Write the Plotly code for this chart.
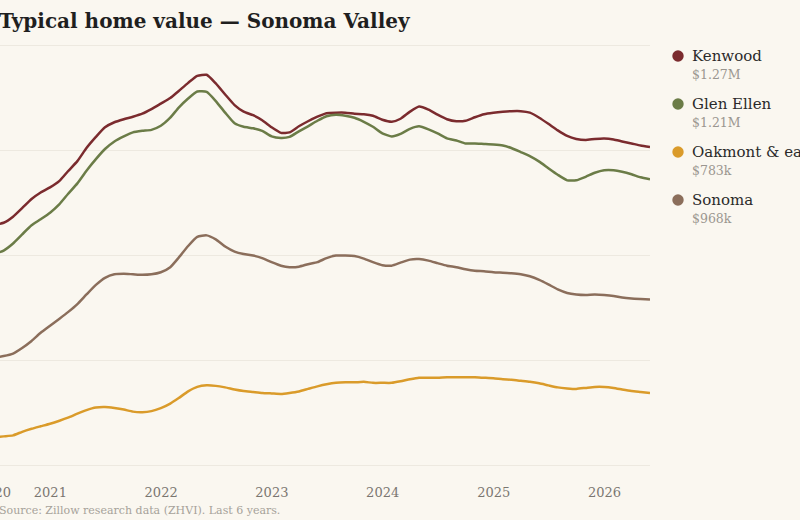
import plotly.graph_objects as go
import pandas as pd

# Monthly ZHVI, month-end dates, values in $k
months = pd.date_range("2020-06-30", periods=72, freq="ME")

kenwood = [1116, 1120, 1132, 1149, 1167, 1180, 1190, 1203, 1222, 1242,
           1268, 1290, 1309, 1319, 1325, 1330, 1336, 1345, 1356, 1367,
           1381, 1397, 1411, 1413, 1396, 1374, 1353, 1340, 1333, 1323,
           1309, 1298, 1299, 1311, 1321, 1330, 1337, 1338, 1338, 1336,
           1335, 1332, 1324, 1320, 1326, 1340, 1350, 1344, 1334, 1325,
           1321, 1322, 1329, 1335, 1338, 1340, 1341, 1341, 1338, 1328,
           1316, 1303, 1292, 1286, 1284, 1286, 1287, 1285, 1281, 1277,
           1273, 1270]
glen_ellen = [1058, 1065, 1079, 1097, 1115, 1127, 1140, 1157, 1177, 1198,
              1223, 1246, 1266, 1281, 1291, 1299, 1302, 1304, 1312, 1328,
              1348, 1366, 1380, 1379, 1361, 1338, 1317, 1310, 1307, 1302,
              1291, 1288, 1290, 1301, 1311, 1322, 1331, 1334, 1332, 1328,
              1320, 1310, 1297, 1291, 1296, 1306, 1311, 1305, 1297, 1287,
              1283, 1277, 1277, 1276, 1275, 1273, 1268, 1260, 1252, 1241,
              1228, 1215, 1204, 1204, 1211, 1219, 1224, 1224, 1221, 1216,
              1210, 1206]
oakmont = [695, 697, 699, 706, 712, 717, 722, 728, 734, 742,
           749, 754, 755, 753, 750, 746, 745, 747, 753, 762,
           773, 786, 795, 798, 797, 794, 790, 787, 785, 783,
           782, 781, 783, 786, 791, 796, 800, 803, 804, 804,
           805, 803, 803, 803, 806, 810, 813, 813, 813, 814,
           814, 814, 814, 813, 812, 810, 809, 807, 805, 802,
           798, 794, 792, 791, 793, 795, 795, 793, 790, 787,
           785, 783]
sonoma = [853, 856, 861, 872, 886, 902, 916, 930, 943, 959,
          978, 997, 1011, 1018, 1019, 1018, 1017, 1018, 1022, 1032,
          1051, 1074, 1092, 1095, 1087, 1073, 1063, 1058, 1055, 1050,
          1042, 1035, 1032, 1033, 1038, 1042, 1050, 1055, 1055, 1054,
          1049, 1042, 1036, 1035, 1041, 1047, 1048, 1045, 1040, 1035,
          1032, 1028, 1025, 1024, 1022, 1021, 1020, 1018, 1014, 1007,
          998, 988, 981, 978, 977, 978, 977, 975, 972, 970,
          969, 968]

names = ["Kenwood", "Glen Ellen", "Oakmont & east Sonoma", "Sonoma"]
values = [kenwood, glen_ellen, oakmont, sonoma]
colors = ["#7b2b2e", "#6b7c47", "#da9b2a", "#8b6e5b"]

year_ticks = ["2021-01-01", "2022-01-01", "2023-01-01", "2024-01-01", "2025-01-01", "2026-01-01"]
year_labels = ["2021", "2022", "2023", "2024", "2025", "2026"]

BG = "#faf7f0"
FONT = "DejaVu Serif"


def fmt_money(k):
    # k is in thousands of dollars
    if k >= 1000:
        return f"${k / 1000:.2f}M"
    return f"${k:.0f}k"


fig = go.Figure()
for name, vals, color in zip(names, values, colors):
    fig.add_trace(go.Scatter(
        x=months, y=[v * 1000 for v in vals], mode="lines", name=name,
        line=dict(color=color, width=2.5, shape="spline", smoothing=0.5), showlegend=False,
        hovertemplate="%{x|%b %Y}<br>$%{y:,.0f}<extra>" + name + "</extra>",
    ))

# plot area geometry (px): left 0, right 650, top 40, bottom 470
W, H = 800, 520
ML, MR, MT, MB = 0, 150, 40, 50
PW = W - ML - MR
PH = H - MT - MB

x_start = pd.Timestamp("2020-07-19")
x_end = months[-1]

annotations = []
shapes = []

# title + source (slightly clipped on the left like the original)
annotations.append(dict(
    text="<b>Typical home value — Sonoma Valley</b>", xref="paper", yref="paper",
    x=0, y=1, xanchor="left", yanchor="middle", xshift=-3, yshift=19, showarrow=False,
    font=dict(family=FONT, size=20, color="#1f1f1f"),
))
annotations.append(dict(
    text="Source: Zillow research data (ZHVI). Last 6 years.", xref="paper", yref="paper",
    x=0, y=0, xanchor="left", yanchor="middle", xshift=-3, yshift=-40, showarrow=False,
    font=dict(family=FONT, size=11, color="#a6a29a"),
))

# first year label sits on the first data month (left of the visible area)
first_frac = (months[0] - x_start) / (x_end - x_start)
annotations.append(dict(
    text=str(months[0].year), xref="paper", yref="paper", x=first_frac, y=0,
    xanchor="center", yanchor="middle", yshift=-22, showarrow=False,
    font=dict(family=FONT, size=13, color="#7a7670"),
))

# legend: dot, name, latest value
LEG_X, LEG_Y0, LEG_STEP = 678, 56, 48
for i, (name, vals, color) in enumerate(zip(names, values, colors)):
    cy = LEG_Y0 + i * LEG_STEP
    shapes.append(dict(
        type="circle", xref="paper", yref="paper",
        xsizemode="pixel", ysizemode="pixel",
        xanchor=(LEG_X - ML) / PW, yanchor=(MT + PH - cy) / PH,
        x0=-5.7, x1=5.7, y0=-5.7, y1=5.7,
        fillcolor=color, line=dict(width=0),
    ))
    annotations.append(dict(
        text=name, xref="paper", yref="paper", x=1, y=(MT + PH - cy) / PH,
        xanchor="left", yanchor="middle", xshift=LEG_X + 12 - ML - PW, showarrow=False,
        font=dict(family=FONT, size=15, color="#2a2a2a"),
    ))
    annotations.append(dict(
        text=fmt_money(vals[-1]), xref="paper", yref="paper", x=1, y=(MT + PH - cy - 18) / PH,
        xanchor="left", yanchor="middle", xshift=LEG_X + 12 - ML - PW, showarrow=False,
        font=dict(family=FONT, size=12.5, color="#9a968f"),
    ))

fig.update_layout(
    width=W, height=H,
    margin=dict(l=ML, r=MR, t=MT, b=MB, autoexpand=False),
    paper_bgcolor=BG, plot_bgcolor=BG,
    font=dict(family=FONT),
    showlegend=False,
    annotations=annotations,
    shapes=shapes,
    xaxis=dict(
        type="date", range=[x_start, x_end],
        tickmode="array", tickvals=year_ticks, ticktext=year_labels,
        showgrid=False, zeroline=False, showline=False, ticks="",
        ticklabelstandoff=13,
        tickfont=dict(family=FONT, size=13, color="#7a7670"),
    ),
    yaxis=dict(
        range=[630400, 1481900], tick0=639700, dtick=207600,
        showticklabels=False, zeroline=False, showline=False, ticks="",
        gridcolor="#ede9e0", gridwidth=1.3,
    ),
)

# the page body has an 8px default margin; drop it so the figure fills the window
fig.write_html(
    "out.html",
    config={"displayModeBar": False},
    post_script="document.body.style.margin='0';document.body.style.background='" + BG + "';",
)
